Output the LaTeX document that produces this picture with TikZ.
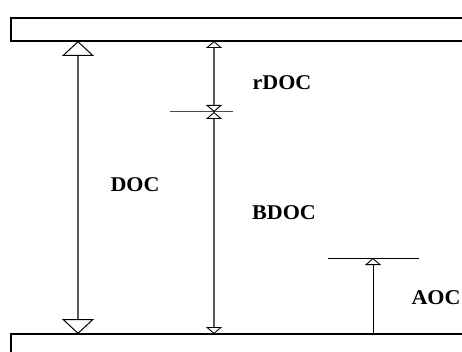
\documentclass[tikz,border=0pt]{standalone}
\usepackage{fontspec}
\setmainfont{Liberation Serif}
\usetikzlibrary{arrows.meta}
\tikzset{
  wall/.style={line width=1.4pt, black},
  bigarrow/.style={line width=1.2pt, black!65, {Triangle[open, length=15pt, width=32pt, line width=1pt, black]}-{Triangle[open, length=15pt, width=32pt, line width=1pt, black]}},
  smallarrow/.style={line width=1.2pt, black!65, {Triangle[open, length=7pt, width=16pt, line width=0.9pt, black]}-{Triangle[open, length=7pt, width=16pt, line width=0.9pt, black]}},
  uparrow/.style={line width=1pt, black, -{Triangle[open, length=7pt, width=16pt, line width=0.9pt]}},
  marker/.style={line width=1pt, black!70},
  lbl/.style={font=\fontsize{21}{23}\selectfont\bfseries, xscale=1.05, inner sep=0pt}
}
\begin{document}
\begin{tikzpicture}[x=1pt, y=-1pt]
  \useasboundingbox (0,0) rectangle (462,352);
  \clip (0,0) rectangle (462,352);
  % walls
  \draw[wall] (11,18) rectangle (480,41);
  \draw[wall] (480,334) -- (11,334) -- (11,360);
  % anchor points
  \coordinate (docTop) at (78,41);
  \coordinate (docBot) at (78,334);
  \coordinate (rdocTop) at (214,41);
  \coordinate (valve) at (214,112);
  \coordinate (bdocBot) at (214,334);
  \coordinate (aocBot) at (373,334);
  \coordinate (aocTop) at (373,258);
  % DOC
  \draw[bigarrow] (docTop) -- (docBot);
  \node[lbl] (doc) at (135,185) {DOC};
  % rDOC and BDOC
  \coordinate (valveL) at (170,112);
  \coordinate (valveR) at (233,112);
  \draw[marker] (valveL) -- (valveR);
  \draw[smallarrow] (rdocTop) -- (valve);
  \draw[smallarrow] (valve) -- (bdocBot);
  \node[lbl] (rdoc) at (282,83) {rDOC};
  \node[lbl] (bdoc) at (284,213) {BDOC};
  % AOC
  \coordinate (aocL) at (328,258);
  \coordinate (aocR) at (419,258);
  \draw[line width=1pt] (aocL) -- (aocR);
  \draw[uparrow] (aocBot) -- (aocTop);
  \node[lbl] (aoc) at (436,298) {AOC};
\end{tikzpicture}
\end{document}
